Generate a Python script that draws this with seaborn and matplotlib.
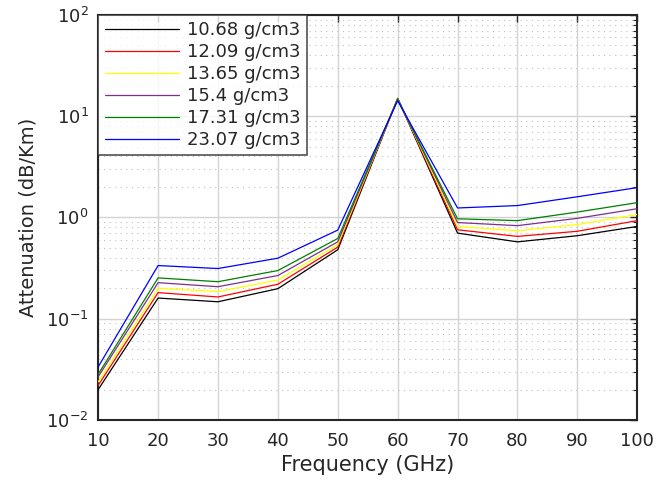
import numpy as np
import pandas as pd
import matplotlib
matplotlib.use("Agg")
import matplotlib.pyplot as plt
import seaborn as sns
from matplotlib.ticker import LogLocator, NullFormatter

freq = [10, 20, 30, 40, 50, 60, 70, 80, 90, 100]
densities = ["10.68 g/cm3", "12.09 g/cm3", "13.65 g/cm3", "15.4 g/cm3", "17.31 g/cm3", "23.07 g/cm3"]
att_1068 = [0.020, 0.160, 0.147, 0.198, 0.48, 15.0, 0.70, 0.574, 0.66, 0.815]
att_1209 = [0.022, 0.181, 0.164, 0.219, 0.51, 15.0, 0.755, 0.65, 0.73, 0.93]
att_1365 = [0.0238, 0.200, 0.185, 0.241, 0.54, 15.0, 0.815, 0.738, 0.85, 1.07]
att_1540 = [0.0267, 0.227, 0.207, 0.267, 0.575, 14.9, 0.89, 0.83, 0.98, 1.22]
att_1731 = [0.0283, 0.253, 0.232, 0.299, 0.62, 14.7, 0.97, 0.93, 1.13, 1.40]
att_2307 = [0.0335, 0.335, 0.313, 0.396, 0.75, 14.2, 1.24, 1.31, 1.60, 1.97]
colors = ["#000000", "#ff0000", "#ffff00", "#7e2f8e", "#008000", "#0000ff"]

series = [att_1068, att_1209, att_1365, att_1540, att_1731, att_2307]
rows = []
for d, vals in zip(densities, series):
    for f, v in zip(freq, vals):
        rows.append({"Frequency": f, "Attenuation": v, "Density": d})
df = pd.DataFrame(rows)

sns.set_style("white")
plt.rcParams["font.family"] = ["DejaVu Sans"]

fig = plt.figure(figsize=(6.59, 4.8), dpi=100)
ax = fig.add_axes([0.149, 0.125, 0.818, 0.844])

sns.lineplot(data=df, x="Frequency", y="Attenuation", hue="Density",
             hue_order=densities, palette=colors, linewidth=0.9, ax=ax,
             zorder=3)

ax.set_yscale("log")
ax.set_ylim(1e-2, 1e2)
ax.set_xlim(10, 100)
ax.set_xticks(freq)
ax.yaxis.set_major_locator(LogLocator(base=10, numticks=10))
ax.yaxis.set_minor_locator(LogLocator(base=10, subs=np.arange(2, 10), numticks=20))
ax.yaxis.set_minor_formatter(NullFormatter())

ax.grid(True, which="major", color="#d4d4d4", linewidth=1.0, linestyle="-", zorder=0)
ax.grid(True, which="minor", axis="y", color="#c0c0c0", linewidth=0.8,
        linestyle=(0, (1, 4)), zorder=0)
ax.set_axisbelow(True)

for s in ax.spines.values():
    s.set_visible(True)
    s.set_color("#262626")
    s.set_linewidth(1.5)

ax.tick_params(axis="both", which="both", direction="in", top=True, right=True,
               labelsize=13, colors="#262626")
ax.tick_params(which="major", length=5, width=1)
ax.tick_params(which="minor", length=3, width=0.8)
ax.tick_params(axis="x", pad=9)
ax.tick_params(axis="y", pad=7)

ax.set_xlabel("Frequency (GHz)", fontsize=15, color="#262626", labelpad=3)
ax.set_ylabel("Attenuation (dB/Km)", fontsize=14, color="#262626", labelpad=6)

leg = ax.legend(loc="upper left", fontsize=13, handlelength=4.1,
                frameon=True, fancybox=False, edgecolor="#262626",
                borderaxespad=0.0, labelspacing=0.22, borderpad=0.35,
                handletextpad=0.45)
leg.get_frame().set_linewidth(1.2)
leg.set_title(None)

fig.savefig("out.png", dpi=100)
